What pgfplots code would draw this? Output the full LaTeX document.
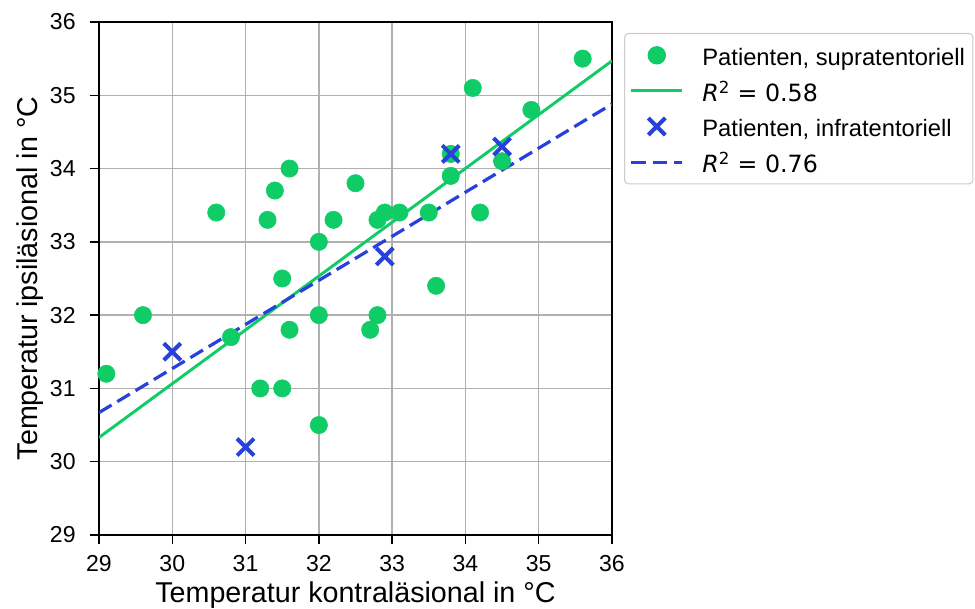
\documentclass[border=0pt]{standalone}
\usepackage{pgfplots}
\pgfplotsset{compat=1.18}
\usepackage{fontspec}
\setmainfont{Liberation Sans}
\newfontfamily\djv{DejaVu Sans}
\definecolor{cg}{RGB}{16,204,102}
\definecolor{cb}{RGB}{40,64,220}
\newcommand{\lstrut}{\rule[-7.8pt]{0pt}{25pt}}
\pgfplotsset{
  mylinelegend/.style={legend image code/.code={\draw[##1] (0pt,0pt) -- (38pt,0pt);}},
  mymarklegend/.style={legend image code/.code={\draw[mark repeat=2,mark phase=2,##1] plot coordinates {(0pt,0pt) (19pt,0pt) (38pt,0pt)};}},
}
\begin{document}
\begin{tikzpicture}
\path[use as bounding box] (0,0) rectangle (731.25pt,456.75pt);
\begin{axis}[
  at={(74.25pt,55.5pt)}, anchor=south west,
  width=384.75pt, height=384.75pt, scale only axis,
  xmin=29, xmax=36, ymin=29, ymax=36,
  xtick={29,...,36}, ytick={29,...,36},
  grid=major, grid style={color=black!31, line width=1.1pt},
  axis line style={line width=1.1pt},
  tick style={black, line width=1pt}, tick align=outside, major tick length=7pt,
  tick pos=left,
  /pgf/number format/assume math mode=true,
  ticklabel style={font=\fontsize{17.3}{19}\selectfont},
  xticklabel style={yshift=-5pt},
  yticklabel style={xshift=-7pt},
  xlabel={Temperatur kontraläsional in °C},
  ylabel={Temperatur ipsiläsional in °C},
  label style={font=\fontsize{21.5}{24}\selectfont},
  xlabel style={at={(axis description cs:0.5,-0.117)}, anchor=center},
  ylabel style={at={(axis description cs:-0.135,0.5)}, anchor=center},
  legend style={at={(1.0234,0.9786)}, anchor=north west,
    draw=black!20, line width=0.8pt, rounded corners=3pt, fill=white,
    font=\fontsize{17.8}{20}\selectfont, inner xsep=4pt, inner ysep=6pt,
    nodes={inner ysep=1pt},
    row sep=6pt, /tikz/every odd column/.append style={column sep=12pt}},
  legend cell align=left,
]
\addplot[only marks, mark=*, mark size=6.5pt, color=cg, mark options={draw=cg, fill=cg}, mymarklegend]
coordinates {
(29.1,31.2) (29.6,32.0) (30.6,33.4) (30.8,31.7) (31.2,31.0) (31.3,33.3)
(31.4,33.7) (31.5,32.5) (31.5,31.0) (31.6,34.0) (31.6,31.8) (32.0,33.0)
(32.0,32.0) (32.0,30.5) (32.2,33.3) (32.5,33.8) (32.7,31.8) (32.8,33.3)
(32.8,32.0) (32.9,33.4) (33.1,33.4) (33.5,33.4) (33.6,32.4) (33.8,33.9)
(33.8,34.2) (34.1,35.1) (34.2,33.4) (34.5,34.1) (34.9,34.8) (35.6,35.5)
};
\addlegendentry{\lstrut Patienten, supratentoriell}
\addplot[color=cg, line width=2.2pt, mark=none, mylinelegend]
coordinates {(29,30.33) (36,35.47)};
\addlegendentry{\lstrut{\djv\textit{R}\textsuperscript{2} = 0.58}}
\addplot[only marks, mark=x, mark size=9pt, color=cb, mark options={line width=3pt}, mymarklegend]
coordinates {(30.0,31.5) (31.0,30.2) (32.9,32.8) (33.8,34.2) (34.5,34.3)};
\addlegendentry{\lstrut Patienten, infratentoriell}
\addplot[color=cb, line width=2.4pt, mark=none, dash pattern=on 11pt off 5pt, mylinelegend]
coordinates {(29,30.67) (36,34.88)};
\addlegendentry{\lstrut{\djv\textit{R}\textsuperscript{2} = 0.76}}
\end{axis}
\end{tikzpicture}
\end{document}
